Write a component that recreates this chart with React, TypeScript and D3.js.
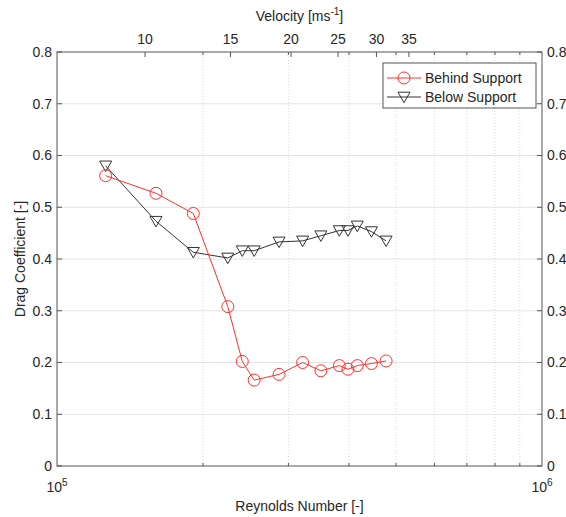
import React from 'react';
import * as d3 from 'd3';

// Reynolds numbers of the test points (shared by both series)
const reynolds = [1.26e5, 1.6e5, 1.91e5, 2.25e5, 2.41e5, 2.55e5, 2.87e5, 3.21e5, 3.5e5, 3.82e5, 3.98e5, 4.16e5, 4.45e5, 4.77e5];
const behindSupport = [0.561, 0.527, 0.488, 0.308, 0.202, 0.166, 0.177, 0.2, 0.184, 0.194, 0.187, 0.194, 0.198, 0.203];
const belowSupport = [0.58, 0.473, 0.413, 0.402, 0.416, 0.416, 0.433, 0.435, 0.445, 0.455, 0.455, 0.464, 0.453, 0.435];

const yTicks = [0, 0.1, 0.2, 0.3, 0.4, 0.5, 0.6, 0.7, 0.8];
const reMinorTicks = [2e5, 3e5, 4e5, 5e5, 6e5, 7e5, 8e5, 9e5];
const velocityTicks = [10, 15, 20, 25, 30, 35];
const reToVelocity = 15190; // Re per m/s

const W = 566;
const H = 517;
const margin = {top: 52, right: 24, bottom: 51, left: 57};
const FONT = '"Liberation Sans", Arial, Helvetica, sans-serif';
const TEXT = '#262626';
const AXIS = '#555';
const RED = '#ff3030';
const BLACK = '#333';

export default function App() {
  const x = d3.scaleLog().domain([1e5, 1e6]).range([margin.left, W - margin.right]);
  const y = d3.scaleLinear().domain([0, 0.8]).range([H - margin.bottom, margin.top]);
  const v = d3
    .scaleLog()
    .domain([1e5 / reToVelocity, 1e6 / reToVelocity])
    .range([margin.left, W - margin.right]);

  const x0 = margin.left;
  const x1 = W - margin.right;
  const y0 = H - margin.bottom;
  const y1 = margin.top;

  const line = d3
    .line<number>()
    .x((d, i) => x(reynolds[i]))
    .y(d => y(d));

  const tri = (cx: number, cy: number, s = 6) =>
    `M${cx - s},${cy - s * 0.8}L${cx + s},${cy - s * 0.8}L${cx},${cy + s * 0.95}Z`;

  const legX = 383;
  const legY = 63;

  return (
    <svg
      width={W}
      height={H}
      style={{position: 'absolute', left: 0, top: 0, background: '#fff'}}
      fontFamily={FONT}>
      {/* grid */}
      {yTicks.slice(1, -1).map(t => (
        <line key={'gy' + t} x1={x0} x2={x1} y1={y(t)} y2={y(t)} stroke="#e4e4e4" strokeWidth={1} />
      ))}
      {reMinorTicks.map(t => (
        <line key={'gx' + t} x1={x(t)} x2={x(t)} y1={y0} y2={y1} stroke="#d8d8d8" strokeWidth={1} strokeDasharray="1,2" />
      ))}

      {/* box */}
      <rect x={x0} y={y1} width={x1 - x0} height={y0 - y1} fill="none" stroke={AXIS} strokeWidth={1} />

      {/* y ticks both sides */}
      {yTicks.map(t => (
        <g key={'yt' + t}>
          <line x1={x0} x2={x0 + 5} y1={y(t)} y2={y(t)} stroke={AXIS} />
          <line x1={x1} x2={x1 - 5} y1={y(t)} y2={y(t)} stroke={AXIS} />
          <text x={x0 - 5} y={y(t)} dy="0.35em" textAnchor="end" fontSize={14} fill={TEXT}>
            {t === 0 ? '0' : t.toFixed(1)}
          </text>
          <text x={x1 + 5} y={y(t)} dy="0.35em" textAnchor="start" fontSize={14} fill={TEXT}>
            {t === 0 ? '0' : t.toFixed(1)}
          </text>
        </g>
      ))}

      {/* Re minor ticks, bottom and top */}
      {reMinorTicks.map(t => (
        <g key={'xt' + t}>
          <line x1={x(t)} x2={x(t)} y1={y0} y2={y0 - 3} stroke={AXIS} />
          <line x1={x(t)} x2={x(t)} y1={y1} y2={y1 + 3} stroke={AXIS} />
        </g>
      ))}

      {/* velocity ticks on top */}
      {velocityTicks.map(t => (
        <g key={'vt' + t}>
          <line x1={v(t)} x2={v(t)} y1={y1} y2={y1 + 5} stroke={AXIS} />
          <text x={v(t)} y={y1 - 8} textAnchor="middle" fontSize={14} fill={TEXT}>
            {t}
          </text>
        </g>
      ))}

      {/* decade labels */}
      {[1e5, 1e6].map(t => (
        <text key={'dl' + t} x={x(t)} y={y0 + 26} textAnchor="middle" fontSize={14} fill={TEXT}>
          10
          <tspan dy={-6} fontSize={10}>
            {Math.round(Math.log10(t))}
          </tspan>
        </text>
      ))}

      {/* axis titles */}
      <text x={(x0 + x1) / 2} y={H - 6} textAnchor="middle" fontSize={14} fill={TEXT}>
        Reynolds Number [-]
      </text>
      <text x={(x0 + x1) / 2} y={21} textAnchor="middle" fontSize={14} fill={TEXT}>
        Velocity [ms
        <tspan dy={-6} fontSize={10}>
          -1
        </tspan>
        <tspan dy={6}>]</tspan>
      </text>
      <text
        transform={`translate(25,${(y0 + y1) / 2}) rotate(-90)`}
        textAnchor="middle"
        fontSize={14}
        fill={TEXT}>
        Drag Coefficient [-]
      </text>

      {/* series */}
      <path d={line(belowSupport) || ''} fill="none" stroke={BLACK} strokeWidth={1} />
      {belowSupport.map((d, i) => (
        <path key={'b' + i} d={tri(x(reynolds[i]), y(d))} fill="none" stroke={BLACK} strokeWidth={1} />
      ))}
      <path d={line(behindSupport) || ''} fill="none" stroke={RED} strokeWidth={1} />
      {behindSupport.map((d, i) => (
        <circle key={'r' + i} cx={x(reynolds[i])} cy={y(d)} r={6} fill="none" stroke={RED} strokeWidth={1} />
      ))}

      {/* legend */}
      <rect x={legX} y={legY} width={153} height={45} fill="#fff" stroke={AXIS} strokeWidth={1} />
      <line x1={legX + 4} x2={legX + 38} y1={legY + 15} y2={legY + 15} stroke={RED} />
      <circle cx={legX + 21} cy={legY + 15} r={6} fill="none" stroke={RED} />
      <text x={legX + 42} y={legY + 15} dy="0.35em" fontSize={14} fill={TEXT}>
        Behind Support
      </text>
      <line x1={legX + 4} x2={legX + 38} y1={legY + 34} y2={legY + 34} stroke={BLACK} />
      <path d={tri(legX + 21, legY + 34)} fill="none" stroke={BLACK} />
      <text x={legX + 42} y={legY + 34} dy="0.35em" fontSize={14} fill={TEXT}>
        Below Support
      </text>
    </svg>
  );
}
